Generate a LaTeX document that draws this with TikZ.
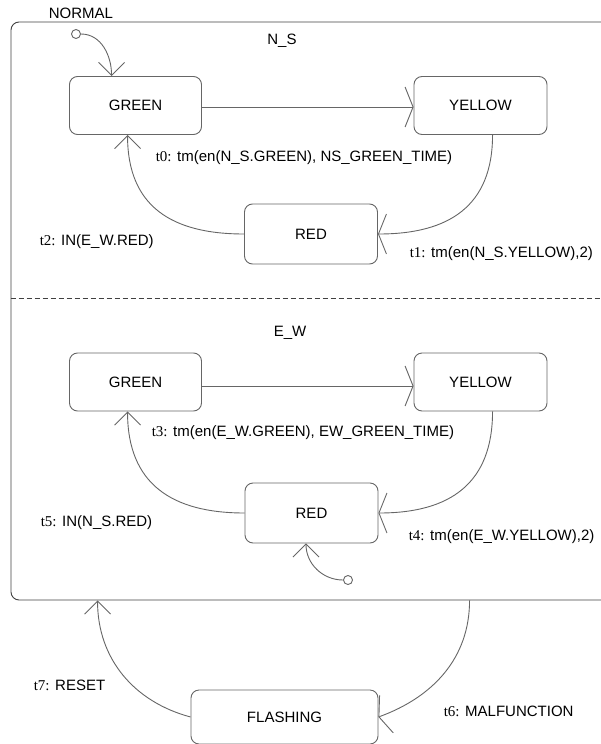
\documentclass[tikz,border=0pt]{standalone}
\usepackage{fontspec}
\setmainfont{Liberation Sans}
\newfontfamily\tfont{Liberation Serif}
\usetikzlibrary{arrows.meta}
\definecolor{linegray}{gray}{0.4}
\newcommand\trn[2]{{\tfont #1:} #2}

\begin{document}
\begin{tikzpicture}[x=1pt, y=1pt, line width=0.9pt,
  every node/.style={font=\fontsize{15}{18}\selectfont},
  state/.style={draw=linegray, rounded corners=8pt, inner sep=0pt, minimum width=133pt, minimum height=58pt},
  initial/.style={draw=linegray, circle, inner sep=0pt, minimum size=9pt},
  harr/.style={draw=linegray, -{Straight Barb[length=8pt, width=40pt]}},
  varr/.style={draw=linegray, -{Straight Barb[length=13pt, width=26pt]}}]
  \useasboundingbox (0,0) rectangle (600,-744);

  % outer state
  \node[draw=black!75, rounded corners=8pt, inner sep=0pt, minimum width=614pt, minimum height=578pt] (normal) at (318,-311) {};
  \node[anchor=west] (normallbl) at (45,-13) {NORMAL};
  \coordinate (split) at (0,-298);
  \draw[draw=black!75, dash pattern=on 5pt off 3pt] (normal.west |- split) -- (normal.east |- split);

  % N_S
  \node (nslbl) at (282,-41) {N\_S};
  \node[state, minimum width=132pt] (nsgreen) at (135.5,-105.5) {GREEN};
  \node[state] (nsyellow) at (480.5,-105.5) {YELLOW};
  \node[state, minimum height=60pt] (nsred) at (311,-234) {RED};
  \node[initial] (nsinit) at (76,-34) {};

  \draw[varr] (nsinit) to[out=0, in=90] ([xshift=42.5pt]nsgreen.north west);
  \draw[harr] ([yshift=-1.5pt]nsgreen.east) -- ([yshift=-1.5pt]nsyellow.west);
  \draw[harr] ([xshift=79pt]nsyellow.south west) to[out=-90, in=0, looseness=1.2] (nsred.east);
  \draw[varr] (nsred.west) to[out=180, in=-90, looseness=1.2] ([xshift=58.5pt]nsgreen.south west);

  \node[anchor=west] (t0) at (152,-158) {\trn{t0}{tm(en(N\_S.GREEN), NS\_GREEN\_TIME)}};
  \node[anchor=west] (t1) at (406,-254) {\trn{t1}{tm(en(N\_S.YELLOW),2)}};
  \node[anchor=west] (t2) at (36,-242) {\trn{t2}{IN(E\_W.RED)}};

  % E_W
  \node (ewlbl) at (290,-333) {E\_W};
  \node[state, minimum width=132pt] (ewgreen) at (135.5,-382) {GREEN};
  \node[state] (ewyellow) at (480.5,-382) {YELLOW};
  \node[state, minimum height=60pt] (ewred) at (311.5,-513) {RED};
  \node[initial] (ewinit) at (348,-580) {};

  \draw[harr] ([yshift=-4pt]ewgreen.east) -- ([yshift=-4pt]ewyellow.west);
  \draw[harr] ([xshift=79pt]ewyellow.south west) to[out=-90, in=0, looseness=1.2] (ewred.east);
  \draw[varr] (ewred.west) to[out=180, in=-90, looseness=1.2] ([xshift=58.5pt]ewgreen.south west);
  \draw[varr] (ewinit) to[out=180, in=-90] ([xshift=-5.5pt]ewred.south);

  \node[anchor=west] (t3) at (148,-433) {\trn{t3}{tm(en(E\_W.GREEN), EW\_GREEN\_TIME)}};
  \node[anchor=west] (t4) at (405,-537) {\trn{t4}{tm(en(E\_W.YELLOW),2)}};
  \node[anchor=west] (t5) at (37,-523) {\trn{t5}{IN(N\_S.RED)}};

  % FLASHING
  \node[state, minimum width=187pt, minimum height=54pt] (flashing) at (284.5,-717) {FLASHING};
  \coordinate (malf) at ([xshift=459pt]normal.south west);
  \coordinate (reset) at ([xshift=87pt]normal.south west);

  \draw[harr] (malf) to[out=-90, in=20] (flashing.east);
  \draw[varr] (flashing.west) to[out=165, in=-90] (reset);

  \node[anchor=west] (t6) at (440,-711) {\trn{t6}{MALFUNCTION}};
  \node[anchor=west] (t7) at (30,-685) {\trn{t7}{RESET}};
\end{tikzpicture}
\end{document}
